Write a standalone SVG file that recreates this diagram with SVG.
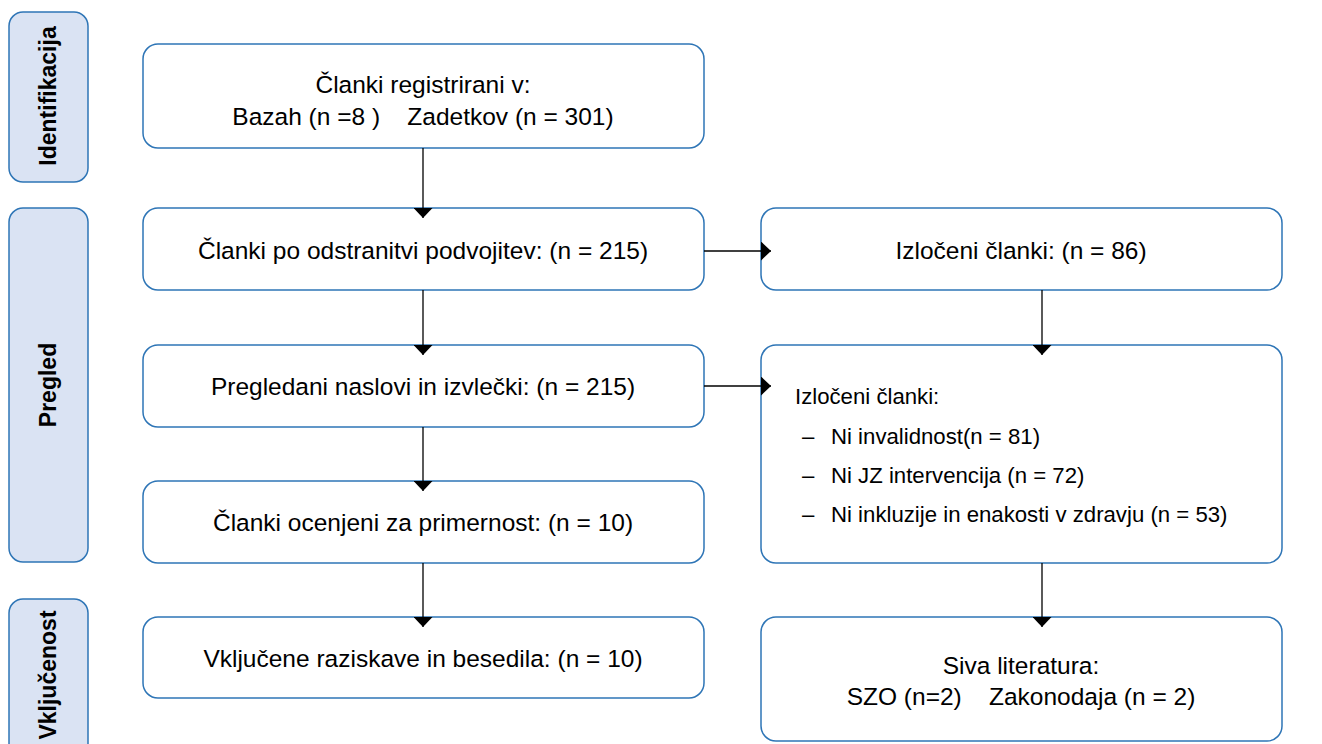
<svg xmlns="http://www.w3.org/2000/svg" width="1322" height="744" viewBox="0 0 1322 744">
<defs>
<style>
.side{fill:#DAE3F3;stroke:#2E75B6;stroke-width:1.5}
.box{fill:#FFFFFF;stroke:#2E75B6;stroke-width:1.5}
.t{font-family:"Liberation Sans",Arial,sans-serif;font-size:24.5px;fill:#000}
.s{font-size:22.2px}
.c{text-anchor:middle}
.st{font-family:"Liberation Sans",Arial,sans-serif;font-size:23px;font-weight:bold;fill:#000;text-anchor:middle}
.ln{stroke:#000;stroke-width:1.3;fill:none}
</style>
<marker id="ah" markerWidth="10" markerHeight="19" refX="10" refY="9.5" orient="auto" markerUnits="userSpaceOnUse" viewBox="0 0 10 19">
<path d="M0,0 L10,9.5 L0,19 Z" fill="#000"/>
</marker>
</defs>
<rect width="1322" height="744" fill="#fff"/>
<g id="side-identifikacija">
<rect class="side" x="9" y="12" width="79" height="170" rx="14"/>
<text class="st" transform="translate(56,96) rotate(-90)">Identifikacija</text>
</g>
<g id="side-pregled">
<rect class="side" x="9" y="208" width="79" height="354" rx="14"/>
<text class="st" transform="translate(56,385) rotate(-90)">Pregled</text>
</g>
<g id="side-vkljucenost">
<rect class="side" x="9" y="599" width="79" height="170" rx="14"/>
<text class="st" transform="translate(56,675) rotate(-90)">Vključenost</text>
</g>
<g id="n1">
<rect class="box" x="143" y="44" width="561" height="104" rx="15"/>
<text class="t c" x="423" y="93">Članki registrirani v:</text>
<text class="t c" x="423" y="125" xml:space="preserve">Bazah (n =8 )    Zadetkov (n = 301)</text>
</g>
<g id="n2">
<rect class="box" x="143" y="208" width="561" height="82" rx="15"/>
<text class="t c" x="423" y="259">Članki po odstranitvi podvojitev: (n = 215)</text>
</g>
<g id="n3">
<rect class="box" x="143" y="345" width="561" height="82" rx="15"/>
<text class="t c" x="423" y="395">Pregledani naslovi in izvlečki: (n = 215)</text>
</g>
<g id="n4">
<rect class="box" x="143" y="481" width="561" height="82" rx="15"/>
<text class="t c" x="423" y="531">Članki ocenjeni za primernost: (n = 10)</text>
</g>
<g id="n5">
<rect class="box" x="143" y="617" width="561" height="81" rx="15"/>
<text class="t c" x="423" y="667">Vključene raziskave in besedila: (n = 10)</text>
</g>
<g id="r1">
<rect class="box" x="761" y="208" width="521" height="82" rx="15"/>
<text class="t c" x="1021" y="259">Izločeni članki: (n = 86)</text>
</g>
<g id="r2">
<rect class="box" x="761" y="345" width="521" height="218" rx="15"/>
<text class="t s" x="795" y="404">Izločeni članki:</text>
<text class="t s" x="802" y="444">–</text>
<text class="t s" x="831" y="444">Ni invalidnost(n = 81)</text>
<text class="t s" x="802" y="483">–</text>
<text class="t s" x="831" y="483">Ni JZ intervencija (n = 72)</text>
<text class="t s" x="802" y="522">–</text>
<text class="t s" x="831" y="522">Ni inkluzije in enakosti v zdravju (n = 53)</text>
</g>
<g id="r3">
<rect class="box" x="761" y="617" width="521" height="124" rx="15"/>
<text class="t c" x="1021" y="674">Siva literatura:</text>
<text class="t c" x="1021" y="705" xml:space="preserve">SZO (n=2)    Zakonodaja (n = 2)</text>
</g>
<g id="connectors">
<line class="ln" x1="423" y1="148" x2="423" y2="218" marker-end="url(#ah)"/>
<line class="ln" x1="423" y1="290" x2="423" y2="355" marker-end="url(#ah)"/>
<line class="ln" x1="423" y1="427" x2="423" y2="491" marker-end="url(#ah)"/>
<line class="ln" x1="423" y1="563" x2="423" y2="627" marker-end="url(#ah)"/>
<line class="ln" x1="704" y1="251" x2="771" y2="251" marker-end="url(#ah)"/>
<line class="ln" x1="704" y1="386" x2="771" y2="386" marker-end="url(#ah)"/>
<line class="ln" x1="1042" y1="290" x2="1042" y2="355" marker-end="url(#ah)"/>
<line class="ln" x1="1042" y1="563" x2="1042" y2="627" marker-end="url(#ah)"/>
</g>
</svg>
